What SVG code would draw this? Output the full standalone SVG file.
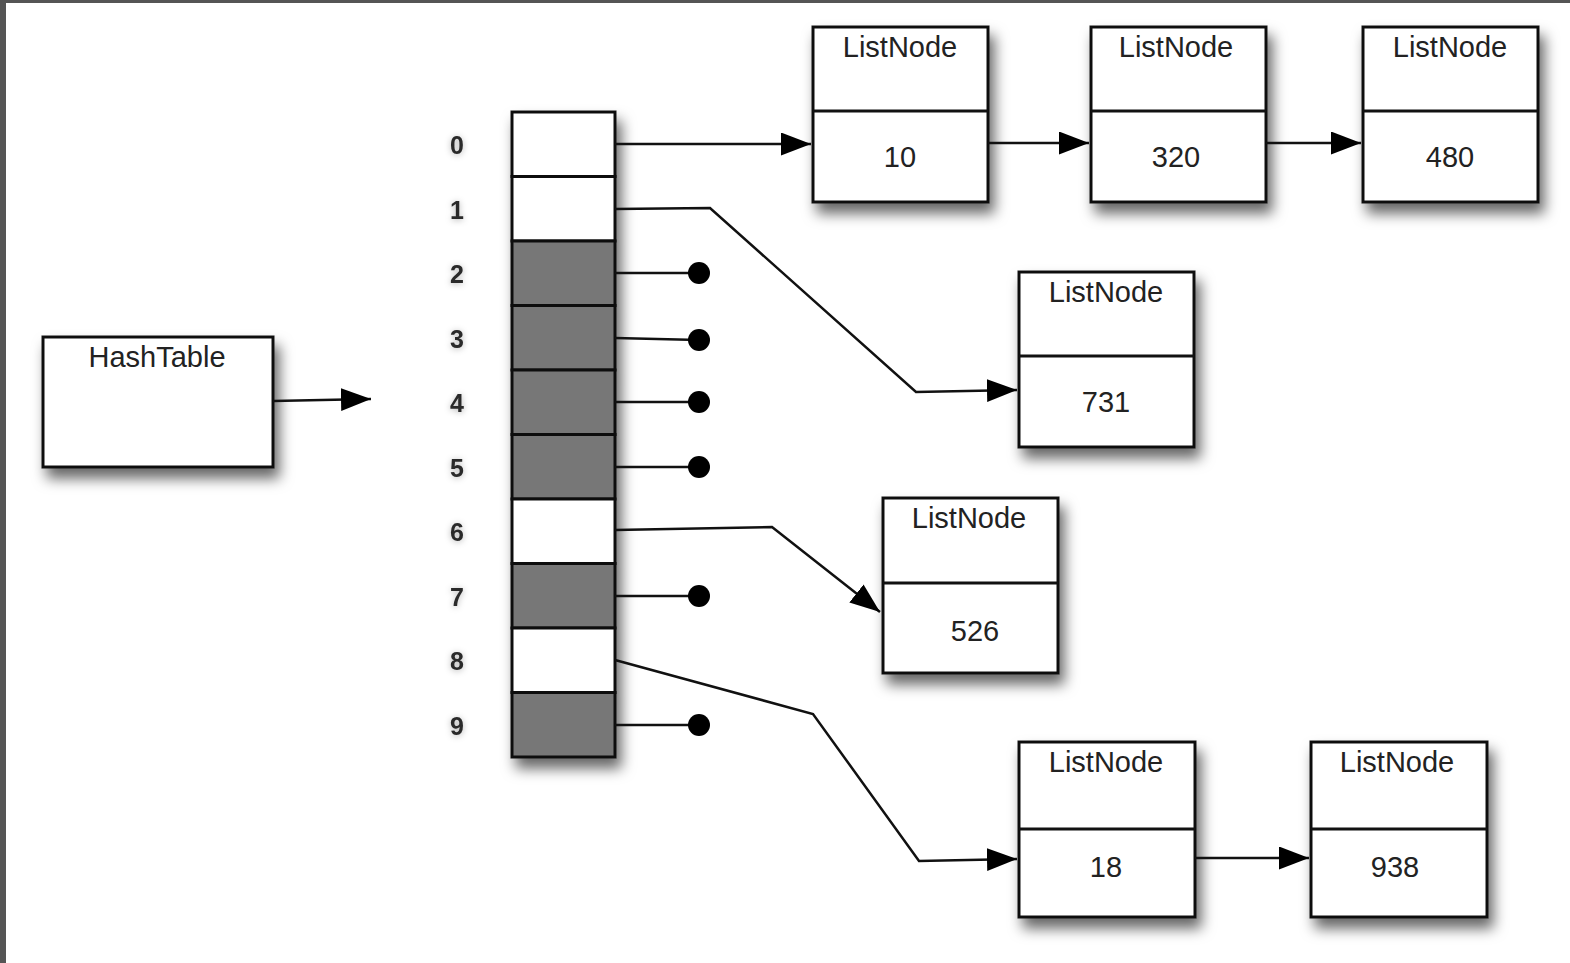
<svg xmlns="http://www.w3.org/2000/svg" width="1570" height="963" viewBox="0 0 1570 963">
<style>
.box{fill:#fff;stroke:#111;stroke-width:3}
.cell{stroke:#111;stroke-width:3}
.w{fill:#fff}
.g{fill:#777}
.t{font-family:"Liberation Sans",Arial,sans-serif;font-size:29px;fill:#222;text-anchor:middle}
.idx{font-family:"Liberation Sans",Arial,sans-serif;font-size:25px;font-weight:bold;fill:#2a2a2a;text-anchor:middle}
.ln{fill:none;stroke:#111;stroke-width:2.5}
.dot{fill:#000}
</style>
<defs>
<filter id="sh" x="-20%" y="-20%" width="150%" height="150%">
<feDropShadow dx="5" dy="10" stdDeviation="7" flood-color="#000" flood-opacity="0.6"/>
</filter>
<filter id="tsh" x="-50%" y="-50%" width="200%" height="200%">
<feDropShadow dx="0" dy="1" stdDeviation="3" flood-color="#000" flood-opacity="0.3"/>
</filter>
<marker id="ah" markerUnits="userSpaceOnUse" markerWidth="32" markerHeight="24" refX="30" refY="11.5" orient="auto">
<path d="M0,0 L30,11.5 L0,23 z" fill="#000"/>
</marker>
</defs>
<rect x="0" y="0" width="1570" height="963" fill="#fff"/>
<rect x="0" y="0" width="1570" height="3" fill="#555"/>
<rect x="0" y="0" width="6" height="963" fill="#555"/>

<g id="hashtable">
<rect class="box" x="43" y="337" width="230" height="130" filter="url(#sh)"/>
<text class="t" x="157" y="367">HashTable</text>
</g>

<g id="array">
<g filter="url(#sh)">
<rect class="cell w" x="512" y="112" width="103" height="64.5"/>
<rect class="cell w" x="512" y="176.5" width="103" height="64.5"/>
<rect class="cell g" x="512" y="241" width="103" height="64.5"/>
<rect class="cell g" x="512" y="305.5" width="103" height="64.5"/>
<rect class="cell g" x="512" y="370" width="103" height="64.5"/>
<rect class="cell g" x="512" y="434.5" width="103" height="64.5"/>
<rect class="cell w" x="512" y="499" width="103" height="64.5"/>
<rect class="cell g" x="512" y="563.5" width="103" height="64.5"/>
<rect class="cell w" x="512" y="628" width="103" height="64.5"/>
<rect class="cell g" x="512" y="692.5" width="103" height="64.5"/>
</g>
<g filter="url(#tsh)">
<text class="idx" x="457" y="154">0</text>
<text class="idx" x="457" y="219">1</text>
<text class="idx" x="457" y="283">2</text>
<text class="idx" x="457" y="348">3</text>
<text class="idx" x="457" y="412">4</text>
<text class="idx" x="457" y="477">5</text>
<text class="idx" x="457" y="541">6</text>
<text class="idx" x="457" y="606">7</text>
<text class="idx" x="457" y="670">8</text>
<text class="idx" x="457" y="735">9</text>
</g>
</g>

<g id="node-10">
<rect class="box" x="813" y="27" width="175" height="175" filter="url(#sh)"/>
<line class="ln" x1="813" y1="111" x2="988" y2="111" style="stroke-width:3"/>
<text class="t" x="900" y="57">ListNode</text>
<text class="t" x="900" y="167">10</text>
</g>
<g id="node-320">
<rect class="box" x="1091" y="27" width="175" height="175" filter="url(#sh)"/>
<line class="ln" x1="1091" y1="111" x2="1266" y2="111" style="stroke-width:3"/>
<text class="t" x="1176" y="57">ListNode</text>
<text class="t" x="1176" y="167">320</text>
</g>
<g id="node-480">
<rect class="box" x="1363" y="27" width="175" height="175" filter="url(#sh)"/>
<line class="ln" x1="1363" y1="111" x2="1538" y2="111" style="stroke-width:3"/>
<text class="t" x="1450" y="57">ListNode</text>
<text class="t" x="1450" y="167">480</text>
</g>
<g id="node-731">
<rect class="box" x="1019" y="272" width="175" height="175" filter="url(#sh)"/>
<line class="ln" x1="1019" y1="356" x2="1194" y2="356" style="stroke-width:3"/>
<text class="t" x="1106" y="302">ListNode</text>
<text class="t" x="1106" y="412">731</text>
</g>
<g id="node-526">
<rect class="box" x="883" y="498" width="175" height="175" filter="url(#sh)"/>
<line class="ln" x1="883" y1="583" x2="1058" y2="583" style="stroke-width:3"/>
<text class="t" x="969" y="528">ListNode</text>
<text class="t" x="975" y="641">526</text>
</g>
<g id="node-18">
<rect class="box" x="1019" y="742" width="176" height="175" filter="url(#sh)"/>
<line class="ln" x1="1019" y1="829" x2="1195" y2="829" style="stroke-width:3"/>
<text class="t" x="1106" y="772">ListNode</text>
<text class="t" x="1106" y="877">18</text>
</g>
<g id="node-938">
<rect class="box" x="1311" y="742" width="176" height="175" filter="url(#sh)"/>
<line class="ln" x1="1311" y1="829" x2="1487" y2="829" style="stroke-width:3"/>
<text class="t" x="1397" y="772">ListNode</text>
<text class="t" x="1395" y="877">938</text>
</g>

<g id="connectors">
<path class="ln" d="M273,401 L371,399" marker-end="url(#ah)"/>
<path class="ln" d="M615,144 L811,144" marker-end="url(#ah)"/>
<path class="ln" d="M988,143 L1089,143" marker-end="url(#ah)"/>
<path class="ln" d="M1266,143 L1361,143" marker-end="url(#ah)"/>
<path class="ln" d="M615,209 L710,208 L916,392 L1017,390" marker-end="url(#ah)"/>
<path class="ln" d="M615,530 L772,527 L880,612" marker-end="url(#ah)"/>
<path class="ln" d="M615,660 L813,714 L919,861 L1017,859" marker-end="url(#ah)"/>
<path class="ln" d="M1195,858 L1309,858" marker-end="url(#ah)"/>
<path class="ln" d="M615,273 L699,273"/>
<path class="ln" d="M615,338 L699,340"/>
<path class="ln" d="M615,402 L699,402"/>
<path class="ln" d="M615,467 L699,467"/>
<path class="ln" d="M615,596 L699,596"/>
<path class="ln" d="M615,725 L699,725"/>
<circle class="dot" cx="699" cy="273" r="11"/>
<circle class="dot" cx="699" cy="340" r="11"/>
<circle class="dot" cx="699" cy="402" r="11"/>
<circle class="dot" cx="699" cy="467" r="11"/>
<circle class="dot" cx="699" cy="596" r="11"/>
<circle class="dot" cx="699" cy="725" r="11"/>
</g>
</svg>
